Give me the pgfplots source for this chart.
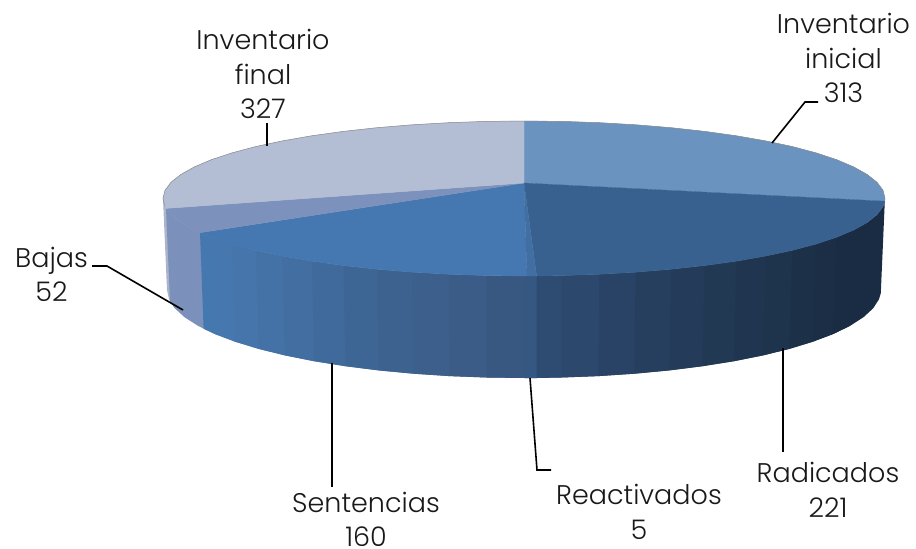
\documentclass[border=0pt]{standalone}
\usepackage{pgfplots}
\pgfplotsset{compat=1.18}
\usepackage{fontspec}
\setmainfont{Poppins Light}
\newcommand\strip[4]{\addplot[fill={rgb,255:red,#1;green,#2;blue,#3},draw=none] coordinates {#4} --cycle;}
\newcommand\slice[4]{\addplot[fill={rgb,255:red,#1;green,#2;blue,#3},draw={rgb,255:red,#1;green,#2;blue,#3},line width=.3pt] coordinates {#4} --cycle;}
\newcommand\lab[3]{\node[align=center,font=\fontsize{27}{34.5}\selectfont,text=black!90,inner sep=0pt] at (axis cs:#1,#2) {#3};}
\newcommand\leader[1]{\addplot[black,line width=1.6pt] coordinates {#1};}
\begin{document}
\begin{tikzpicture}
\path[use as bounding box] (0,0) rectangle (916pt,549pt);
\begin{axis}[at={(0,0)},anchor=south west,scale only axis,width=916pt,height=549pt,xmin=0,xmax=916,ymin=0,ymax=549,y dir=reverse,hide axis,clip=false,no markers]
% side of the cylinder, left sliver and Bajas
\strip{170}{180}{203}{(163,198.5)(165,206.6)(170.9,214.6)(174.8,308.3)(169,299.2)(167,290)}
\strip{123}{144}{186}{(166,208.4)(170.9,214.6)(180.7,222.4)(194.2,230)(211.4,237.3)(214.8,334)(197.9,325.8)(184.5,317.2)(174.8,308.3)(170,301.3)}
% Sentencias side: each strip runs under the next one
\strip{70}{120}{176}{(200,232.7)(211.4,237.3)(232,244.1)(235.2,341.7)(214.8,334)(203.6,328.8)}
\strip{70}{119}{174}{(211.4,237.3)(232,244.1)(255.7,250.4)(258.7,348.9)(235.2,341.7)(214.8,334)}
\strip{69}{117}{171}{(232,244.1)(255.7,250.4)(282.5,256.1)(285.1,355.4)(258.7,348.9)(235.2,341.7)}
\strip{68}{114}{167}{(255.7,250.4)(282.5,256.1)(311.8,261.2)(314.2,361.2)(285.1,355.4)(258.7,348.9)}
\strip{66}{110}{161}{(282.5,256.1)(311.8,261.2)(343.5,265.6)(345.5,366.2)(314.2,361.2)(285.1,355.4)}
\strip{64}{106}{155}{(311.8,261.2)(343.5,265.6)(377.2,269.3)(378.8,370.4)(345.5,366.2)(314.2,361.2)}
\strip{62}{102}{149}{(343.5,265.6)(377.2,269.3)(412.4,272.2)(413.7,373.7)(378.8,370.4)(345.5,366.2)}
\strip{61}{98}{144}{(377.2,269.3)(412.4,272.2)(448.9,274.3)(449.8,376.1)(413.7,373.7)(378.8,370.4)}
\strip{60}{95}{140}{(412.4,272.2)(448.9,274.3)(486.3,275.6)(486.7,377.5)(449.8,376.1)(413.7,373.7)}
\strip{58}{92}{135}{(448.9,274.3)(486.3,275.6)(525,276)(525,378)(486.7,377.5)(449.8,376.1)}
\strip{56}{88}{130}{(486.3,275.6)(525,276)(536.6,276)(536.5,378)(525,378)(486.7,377.5)}
% Reactivados side
\strip{52}{88}{130}{(525,276)(536.6,276)(561.7,275.6)(561.3,377.5)(536.5,378)(525,378)}
% Radicados side
\strip{46}{76}{114}{(536.6,276)(561.7,275.6)(599.1,274.3)(598.2,376.1)(561.3,377.5)(536.5,378)}
\strip{44}{72}{108}{(561.7,275.6)(599.1,274.3)(635.6,272.2)(634.3,373.7)(598.2,376.1)(561.3,377.5)}
\strip{41}{67}{102}{(599.1,274.3)(635.6,272.2)(670.8,269.3)(669.2,370.4)(634.3,373.7)(598.2,376.1)}
\strip{38}{63}{95}{(635.6,272.2)(670.8,269.3)(704.5,265.6)(702.5,366.2)(669.2,370.4)(634.3,373.7)}
\strip{36}{60}{90}{(670.8,269.3)(704.5,265.6)(736.2,261.2)(733.8,361.2)(702.5,366.2)(669.2,370.4)}
\strip{34}{57}{84}{(704.5,265.6)(736.2,261.2)(765.5,256.1)(762.9,355.4)(733.8,361.2)(702.5,366.2)}
\strip{32}{54}{80}{(736.2,261.2)(765.5,256.1)(792.3,250.4)(789.3,348.9)(762.9,355.4)(733.8,361.2)}
\strip{30}{51}{76}{(765.5,256.1)(792.3,250.4)(816,244.1)(812.8,341.7)(789.3,348.9)(762.9,355.4)}
\strip{28}{48}{72}{(792.3,250.4)(816,244.1)(836.6,237.3)(833.2,334)(812.8,341.7)(789.3,348.9)}
\strip{27}{46}{70}{(816,244.1)(836.6,237.3)(853.8,230)(850.1,325.8)(833.2,334)(812.8,341.7)}
\strip{26}{44}{67}{(836.6,237.3)(853.8,230)(867.3,222.4)(877.1,214.6)(883,206.6)(884.8,201.2)(880.8,293.1)(879,299.2)(873.2,308.3)(863.5,317.2)(850.1,325.8)(833.2,334)}
% top: Inventario inicial
\slice{106}{147}{191}{(524,183)(524,121)(561.7,121.4)(599.1,122.7)(635.6,124.8)(670.8,127.7)(704.5,131.4)(736.2,135.8)(765.5,140.9)(792.3,146.6)(816,152.9)(836.6,159.7)(853.8,167)(867.3,174.6)(877.1,182.4)(883,190.4)(885,198.5)(884.8,201.2)}
% top: Radicados
\slice{57}{97}{143}{(524,183)(884.8,201.2)(883,206.6)(877.1,214.6)(867.3,222.4)(853.8,230)(836.6,237.3)(816,244.1)(792.3,250.4)(765.5,256.1)(736.2,261.2)(704.5,265.6)(670.8,269.3)(635.6,272.2)(599.1,274.3)(561.7,275.6)(536.6,276)}
% top: Sentencias
\slice{69}{119}{176}{(524,183)(527,276)(486.3,275.6)(448.9,274.3)(412.4,272.2)(377.2,269.3)(343.5,265.6)(311.8,261.2)(282.5,256.1)(255.7,250.4)(232,244.1)(211.4,237.3)(200,232.7)}
% top: Reactivados
\slice{66}{111}{163}{(524,183)(536.6,276)(527,276)}
% top: Bajas
\slice{124}{146}{188}{(524,183)(200,232.7)(194.2,230)(180.7,222.4)(170.9,214.6)(166,208.4)}
% top: Inventario final
\slice{179}{189}{211}{(524,183)(166,208.4)(165,206.6)(163,198.5)(165,190.4)(170.9,182.4)(180.7,174.6)(194.2,167)(211.4,159.7)(232,152.9)(255.7,146.6)(282.5,140.9)(311.8,135.8)(343.5,131.4)(377.2,127.7)(412.4,124.8)(448.9,122.7)(486.3,121.4)(524,121)}
% grey rim along the back edge
\addplot[black!45,line width=.5pt] coordinates {(165,206.6)(163,198.5)(165,190.4)(170.9,182.4)(180.7,174.6)(194.2,167)(211.4,159.7)(232,152.9)(255.7,146.6)(282.5,140.9)(311.8,135.8)(343.5,131.4)(377.2,127.7)(412.4,124.8)(448.9,122.7)(486.3,121.4)(524,121)(561.7,121.4)(599.1,122.7)(635.6,124.8)(670.8,127.7)(704.5,131.4)(736.2,135.8)(765.5,140.9)(792.3,146.6)(816,152.9)(836.6,159.7)(853.8,167)(867.3,174.6)(877.1,182.4)(883,190.4)(885,198.5)};
% leader lines
\leader{(772,143)(805,102)(818,102)}
\leader{(783,348)(783,452)}
\leader{(530,378)(537,470)(551,470)}
\leader{(332,363)(332,487)}
\leader{(183,310)(107,266)(92,266)}
\leader{(267,146)(267,123)}
% labels
\lab{843.5}{58}{Inventario\\inicial\\313}
\lab{263}{74}{Inventario\\final\\327}
\lab{51.5}{274.5}{Bajas\\52}
\lab{828}{490}{Radicados\\221}
\lab{639}{512}{Reactivados\\5}
\lab{366}{519.5}{Sentencias\\160}
\end{axis}
\end{tikzpicture}
\end{document}
